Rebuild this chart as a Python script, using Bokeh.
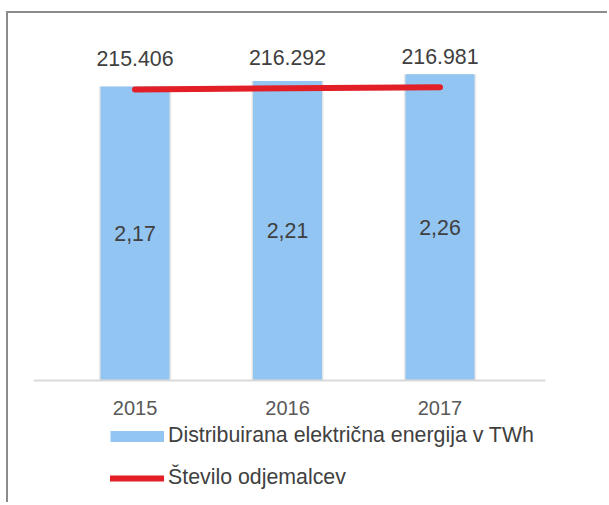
from bokeh.plotting import figure
from bokeh.models import (ColumnDataSource, Range1d, Legend, LegendItem, Span)
from bokeh.embed import file_html
from bokeh.resources import INLINE
from bokeh.core.properties import value

# ---- data ----
years = ["2015", "2016", "2017"]
energy_twh = [2.17, 2.21, 2.26]
customers = [215406, 216292, 216981]

energy_name = "Distribuirana električna energija v TWh"
customers_name = "Število odjemalcev"

FONT = "Liberation Sans"
BLUE = "#92C5F1"
RED = "#E21F26"
LBL = "21.33px"

idx = list(range(len(years)))
src = ColumnDataSource(dict(
    x=idx,
    zero=[0] * len(years),
    year=years,
    twh=energy_twh,
    twh_mid=[v / 2 for v in energy_twh],
    twh_lbl=[f"{v:.2f}".replace(".", ",") for v in energy_twh],
    n=customers,
    n_lbl=[f"{v:,}".replace(",", ".") for v in customers],
))

PX = 135.5          # pixels per TWh
p = figure(width=601, height=491, output_backend="svg", toolbar_location=None,
           x_range=Range1d(-0.666, 2.692),
           y_range=Range1d(-115 / PX, 350 / PX),
           min_border_left=25, min_border_right=64, min_border_top=17,
           min_border_bottom=9)
p.extra_y_ranges = {"n": Range1d(-115 * 740, 350 * 740),
                    "legend_only": Range1d(1000, 2000)}
p.styles = {"margin-top": "11px", "margin-left": "6px",
            "border-top": "2px solid #8c8c8c", "border-left": "2px solid #8c8c8c"}

p.outline_line_color = None
p.xgrid.visible = False
p.ygrid.visible = False
p.xaxis.visible = False
p.yaxis.visible = False
p.background_fill_color = "white"
p.border_fill_color = "white"

# bar shadow
p.vbar(x="x", top="twh", width=0.478, bottom=0, source=src,
       fill_color="#000000", fill_alpha=0.05, line_color=None)
p.vbar(x="x", top="twh", width=0.466, bottom=0, source=src,
       fill_color="#000000", fill_alpha=0.06, line_color=None)
bars = p.vbar(x="x", top="twh", width=0.4525, bottom=0, source=src,
              fill_color=BLUE, line_color=None)

# category axis line + labels
p.add_layout(Span(location=0, dimension="width", line_color="#d9d9d9", line_width=2))
p.text(x="x", y="zero", text="year", source=src, y_offset=27.5,
       text_font=value(FONT), text_font_size="20px", text_color="#595959",
       text_align="center", text_baseline="middle")

line = p.line(x="x", y="n", source=src, y_range_name="n",
              line_color=RED, line_width=6, line_cap="round")

p.text(x="x", y="twh_mid", text="twh_lbl", source=src,
       text_font=value(FONT), text_font_size=LBL, text_color="#404040",
       text_align="center", text_baseline="middle")
p.text(x="x", y="n", text="n_lbl", source=src, y_range_name="n", y_offset=-31,
       text_font=value(FONT), text_font_size=LBL, text_color="#404040",
       text_align="center", text_baseline="middle")

# legend swatch for the bars (a thick line kept outside the visible range)
proxy_bar = p.line(x="x", y="twh", source=src, y_range_name="legend_only",
                   line_color=BLUE, line_width=11, line_cap="butt")

legend = Legend(items=[LegendItem(label=energy_name, renderers=[proxy_bar]),
                       LegendItem(label=customers_name, renderers=[line])],
                location=(77, 5), orientation="vertical",
                glyph_width=54, glyph_height=24, label_height=24, spacing=17,
                label_standoff=4, padding=0, margin=0,
                border_line_color=None, background_fill_alpha=0,
                label_text_font=FONT, label_text_font_size=LBL,
                label_text_color="#404040")
p.add_layout(legend, "center")

open("out.html", "w").write(file_html(p, INLINE))
